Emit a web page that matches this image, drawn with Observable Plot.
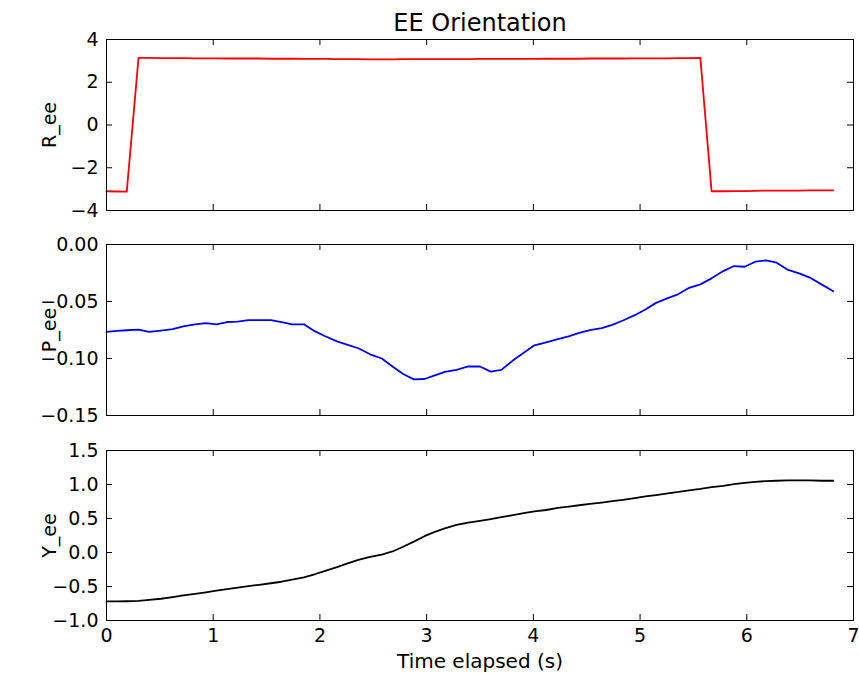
<!DOCTYPE html>
<html>
<head>
<meta charset="utf-8">
<script src="https://cdn.jsdelivr.net/npm/d3@7"></script>
<script src="https://cdn.jsdelivr.net/npm/@observablehq/plot@0.6"></script>
<style>
  html, body { margin: 0; padding: 0; background: white; }
  #chart { width: 859px; height: 674px; }
  #chart svg { display: block; }
</style>
</head>
<body>
<div id="chart"></div>
<script>
const time = [0, 0.10, 0.19, 0.30, 0.40, 0.51, 0.62, 0.72, 0.83, 0.93, 1.03, 1.13, 1.23, 1.33, 1.43, 1.54, 1.64, 1.74, 1.85, 1.95,
  2.05, 2.16, 2.26, 2.36, 2.47, 2.58, 2.68, 2.78, 2.88, 2.98, 3.07, 3.17, 3.28, 3.39, 3.50, 3.60, 3.70, 3.81, 3.91, 4.01,
  4.12, 4.23, 4.33, 4.43, 4.53, 4.64, 4.74, 4.84, 4.95, 5.05, 5.15, 5.26, 5.36, 5.46, 5.565, 5.67, 5.78, 5.88, 5.98, 6.08,
  6.18, 6.28, 6.38, 6.49, 6.59, 6.70, 6.81];

const R_ee = [-3.10, -3.11, -3.12, 3.14, 3.14, 3.13, 3.13, 3.13, 3.12, 3.12, 3.12, 3.11, 3.11, 3.11, 3.11, 3.10, 3.10, 3.10, 3.09, 3.09,
  3.09, 3.08, 3.08, 3.08, 3.07, 3.07, 3.07, 3.08, 3.08, 3.08, 3.08, 3.08, 3.08, 3.08, 3.09, 3.09, 3.09, 3.09, 3.09, 3.09,
  3.10, 3.10, 3.10, 3.10, 3.11, 3.11, 3.11, 3.11, 3.12, 3.12, 3.12, 3.12, 3.13, 3.13, 3.14, -3.10, -3.10, -3.09, -3.09, -3.08,
  -3.07, -3.07, -3.07, -3.07, -3.06, -3.06, -3.06];

const P_ee = [-0.0767, -0.0757, -0.0752, -0.0746, -0.0767, -0.0755, -0.0743, -0.0718, -0.0700, -0.0690, -0.0700, -0.0680, -0.0676, -0.0664, -0.0664, -0.0664, -0.0680, -0.0700, -0.0700, -0.0760,
  -0.0805, -0.0850, -0.0880, -0.0910, -0.0963, -0.1000, -0.1070, -0.1136, -0.1183, -0.1180, -0.1150, -0.1118, -0.1100, -0.1070, -0.1070, -0.1115, -0.1100, -0.1016, -0.0950, -0.0884,
  -0.0858, -0.0831, -0.0805, -0.0775, -0.0752, -0.0734, -0.0705, -0.0667, -0.0620, -0.0570, -0.0512, -0.0470, -0.0435, -0.0380, -0.0350, -0.0297, -0.0233, -0.0189, -0.0195, -0.0151,
  -0.0139, -0.0160, -0.0220, -0.0253, -0.0290, -0.0350, -0.0410];

const Y_ee = [-0.720, -0.720, -0.717, -0.710, -0.697, -0.680, -0.655, -0.632, -0.607, -0.585, -0.562, -0.538, -0.515, -0.495, -0.475, -0.452, -0.430, -0.400, -0.365, -0.320,
  -0.270, -0.215, -0.160, -0.110, -0.065, -0.030, 0.015, 0.085, 0.160, 0.240, 0.300, 0.355, 0.405, 0.440, 0.465, 0.490, 0.520, 0.550, 0.580, 0.605,
  0.625, 0.655, 0.675, 0.695, 0.715, 0.735, 0.755, 0.775, 0.800, 0.825, 0.845, 0.870, 0.890, 0.915, 0.935, 0.960, 0.980, 1.005, 1.025, 1.040,
  1.050, 1.055, 1.060, 1.062, 1.062, 1.055, 1.055];

const xTicks = [0, 1, 2, 3, 4, 5, 6, 7];
const rTicks = [-4, -2, 0, 2, 4];
const pTicks = [-0.15, -0.10, -0.05, 0.00];
const yTicks = [-1.0, -0.5, 0.0, 0.5, 1.0, 1.5];

const title = "EE Orientation";
const xLabel = "Time elapsed (s)";

const W = 859, ML = 106, MR = 6;
const FW = W - ML - MR;
const TL = 6;
const FONT = "'DejaVu Sans', sans-serif";
const TICK_FS = 19;

function panel({values, color, domain, ticks, fmt, label, mt, fh, mb, showX, extra}) {
  const data = time.map((t, i) => ({t, v: values[i]}));
  const marks = [
    Plot.line(data, {x: "t", y: "v", stroke: color, strokeWidth: 1.8}),
    Plot.ruleX(xTicks, {x: d => d, insetTop: fh - TL, stroke: "black"}),
    Plot.ruleX(xTicks, {x: d => d, insetBottom: fh - TL, stroke: "black"}),
    Plot.ruleY(ticks, {y: d => d, insetRight: FW - TL, stroke: "black"}),
    Plot.ruleY(ticks, {y: d => d, insetLeft: FW - TL, stroke: "black"}),
    Plot.frame({stroke: "black", strokeWidth: 1}),
    Plot.axisY(ticks, {tickSize: 0, tickPadding: 8, tickFormat: d3.format(fmt), label: null, fontSize: TICK_FS}),
    Plot.text([label], {frameAnchor: "left", dx: -57, rotate: -90, fontSize: 19, fill: "black", textAnchor: "middle", lineAnchor: "middle"})
  ];
  if (showX) {
    marks.push(Plot.axisX(xTicks, {tickSize: 0, tickPadding: 8, tickFormat: d3.format("d"), label: null, fontSize: TICK_FS}));
  }
  if (extra) marks.push(...extra);
  return Plot.plot({
    width: W,
    height: mt + fh + mb,
    marginLeft: ML,
    marginRight: MR,
    marginTop: mt,
    marginBottom: mb,
    style: {fontFamily: FONT, fontSize: TICK_FS + "px", color: "black", background: "white"},
    x: {domain: [0, 7], axis: showX ? undefined : null},
    y: {domain: domain},
    marks
  });
}

const chart = document.getElementById("chart");
chart.appendChild(panel({
  values: R_ee, color: "#ff0000", domain: [-4, 4], ticks: rTicks, fmt: "d", label: "R_ee",
  mt: 39, fh: 171, mb: 17, showX: false,
  extra: [Plot.text([title], {frameAnchor: "top", dy: -16, fontSize: 24, fill: "black", lineAnchor: "middle", textAnchor: "middle"})]
}));
chart.appendChild(panel({
  values: P_ee, color: "#0000ff", domain: [-0.15, 0], ticks: pTicks, fmt: ".2f", label: "P_ee",
  mt: 17, fh: 171, mb: 17, showX: false
}));
chart.appendChild(panel({
  values: Y_ee, color: "#000000", domain: [-1, 1.5], ticks: yTicks, fmt: ".1f", label: "Y_ee",
  mt: 18, fh: 170, mb: 54, showX: true,
  extra: [Plot.text([xLabel], {frameAnchor: "bottom", dy: 41, fontSize: 20, fill: "black", lineAnchor: "middle", textAnchor: "middle"})]
}));
</script>
</body>
</html>
